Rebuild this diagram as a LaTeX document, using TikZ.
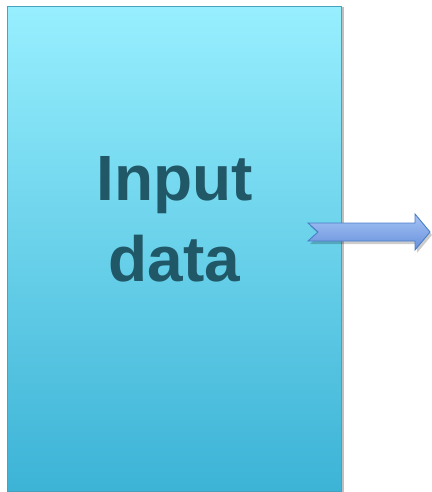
\documentclass[tikz,border=0pt]{standalone}
\usepackage{fontspec}
\setmainfont{Liberation Sans}
\usetikzlibrary{shadows}
\definecolor{boxtop}{HTML}{97EFFE}
\definecolor{boxbottom}{HTML}{3CB3D6}
\definecolor{boxline}{HTML}{47A3BD}
\definecolor{textcol}{HTML}{215868}
\definecolor{arrowtop}{HTML}{A6C4F5}
\definecolor{arrowbottom}{HTML}{6790DC}
\definecolor{arrowline}{HTML}{4A7EC6}

\begin{document}
\begin{tikzpicture}[
			x=1pt, y=-1pt,
			databox/.style={draw=boxline,line width=1.4pt,top color=boxtop,bottom color=boxbottom,
			inner sep=0pt,minimum width=334pt,minimum height=485pt,anchor=north west,
			drop shadow={shadow xshift=1pt,shadow yshift=-2pt,shadow scale=1.005,opacity=0.25,fill=black}},
			boxtext/.style={font=\bfseries\fontsize{64}{81}\selectfont,text=textcol,align=center},
			flow/.style={draw=arrowline,line width=0.9pt,top color=arrowtop,bottom color=arrowbottom,
			line join=miter,drop shadow={shadow xshift=2pt,shadow yshift=-3pt,opacity=0.2,fill=black}}
			]
			\useasboundingbox (0,0) rectangle (431,492);
			\node[databox] (box) at (7,6) {};
			\node[boxtext] (title) at (174.5,219.5) {Input\\data};
			\path[flow] (308,223) -- (318,232) -- (308,241) -- (415,241) -- (415,250)
				-- (430,232) -- (415,214) -- (415,223) -- cycle;
		\end{tikzpicture}
\end{document}
